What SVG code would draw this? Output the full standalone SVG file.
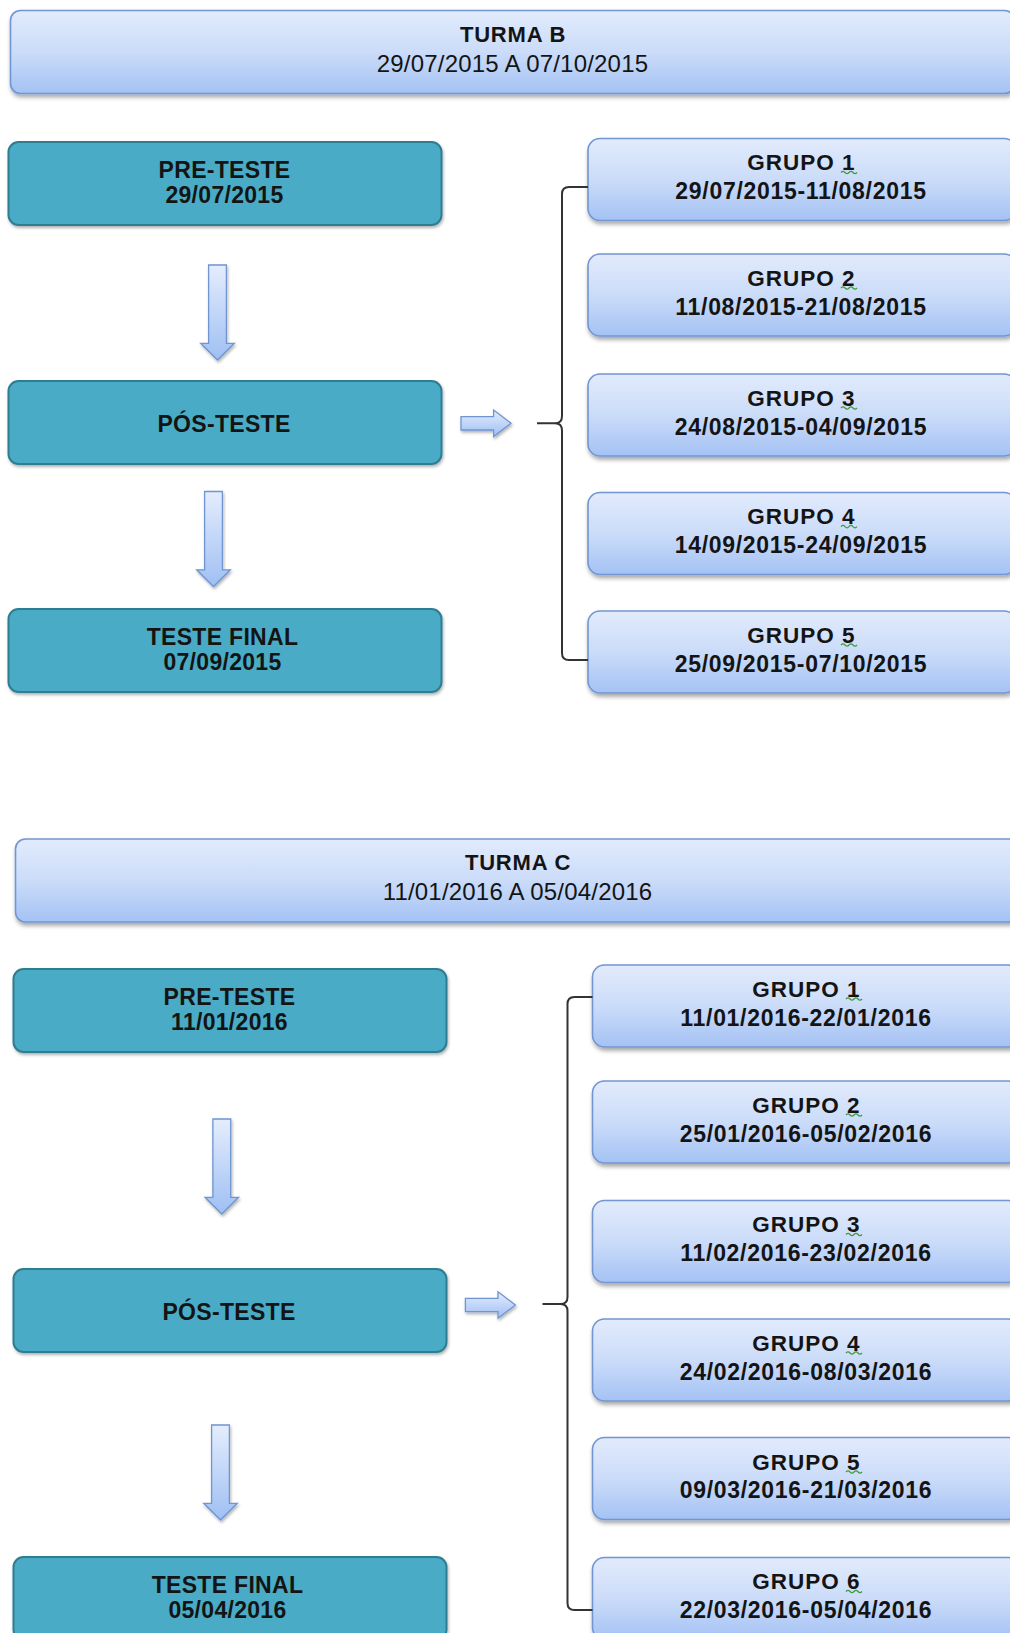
<svg xmlns="http://www.w3.org/2000/svg" width="1010" height="1633" viewBox="0 0 1010 1633">
  <defs>
    <linearGradient id="blueFill" x1="0" y1="0" x2="0" y2="1">
      <stop offset="0" stop-color="#e2ebfc"/>
      <stop offset="0.5" stop-color="#cbdcf9"/>
      <stop offset="1" stop-color="#a4c2f4"/>
    </linearGradient>
    <linearGradient id="arrowFill" x1="0" y1="0" x2="0" y2="1">
      <stop offset="0" stop-color="#e4edfd"/>
      <stop offset="1" stop-color="#9fbff3"/>
    </linearGradient>
    <filter id="shadow" x="-5%" y="-20%" width="110%" height="150%">
      <feDropShadow dx="1" dy="3" stdDeviation="2" flood-color="#000" flood-opacity="0.35"/>
    </filter>
    <filter id="softShadow" x="-20%" y="-20%" width="140%" height="140%">
      <feDropShadow dx="1" dy="2" stdDeviation="1.5" flood-color="#000" flood-opacity="0.3"/>
    </filter>
    <!-- block arrows, drawn at the origin -->
    <path id="arrowDown" d="M -8.9 0 H 8.9 V 78.3 H 16.8 L 0 95 L -16.8 78.3 H -8.9 Z"/>
    <path id="arrowRight" d="M 0 -6.7 H 32.6 V -13.3 L 50 0 L 32.6 13.3 V 6.7 H 0 Z"/>
    <path id="squiggle" d="M 0 0 q 2 -2.4 4 0 t 4 0 t 4 0 t 4 0"/>
  </defs>
  <style>
    .header { fill: url(#blueFill); stroke: #7196d2; stroke-width: 1.6; filter: url(#shadow); }
    .group { fill: url(#blueFill); stroke: #7196d2; stroke-width: 1.6; filter: url(#shadow); }
    .stage { fill: #4aabc5; stroke: #2f7d92; stroke-width: 2; filter: url(#softShadow); }
    .arrow { fill: url(#arrowFill); stroke: #6f95d0; stroke-width: 1.3; filter: url(#softShadow); }
    .brace { fill: none; stroke: #333; stroke-width: 2; }
    .spell { fill: none; stroke: #3f9a3f; stroke-width: 1.2; }
    text { font-family: "Liberation Sans", Arial, sans-serif; text-anchor: middle; fill: #141414; }
    .hTitle { font-size: 22px; font-weight: bold; letter-spacing: 0.8px; }
    .hDate { font-size: 24px; letter-spacing: 0.2px; }
    .sText { font-size: 23px; font-weight: bold; letter-spacing: 0.3px; }
    .gTitle { font-size: 22.5px; font-weight: bold; letter-spacing: 1px; }
    .gDate { font-size: 23px; font-weight: bold; letter-spacing: 0.7px; }
  </style>

  <!-- ===== TURMA B ===== -->
  <g id="turma-b">
    <rect class="header" x="10.5" y="10.5" width="1004" height="83" rx="10"/>
    <text class="hTitle" x="513" y="41.7">TURMA B</text>
    <text class="hDate" x="512.5" y="71.7">29/07/2015 A 07/10/2015</text>
  </g>

  <g id="b-pre-teste">
    <rect class="stage" x="8.5" y="142" width="433" height="83" rx="10"/>
    <text class="sText" x="224.5" y="178.3">PRE-TESTE</text>
    <text class="sText" x="224.5" y="203.3">29/07/2015</text>
  </g>
  <g id="b-pos-teste">
    <rect class="stage" x="8.5" y="381" width="433" height="83" rx="10"/>
    <text class="sText" x="224" y="432">PÓS-TESTE</text>
  </g>
  <g id="b-teste-final">
    <rect class="stage" x="8.5" y="609" width="433" height="83" rx="10"/>
    <text class="sText" x="222.5" y="645">TESTE FINAL</text>
    <text class="sText" x="222.5" y="670">07/09/2015</text>
  </g>

  <g id="b-grupo-1">
    <rect class="group" x="588" y="138.5" width="428" height="82" rx="12"/>
    <text class="gTitle" x="801.5" y="170.1">GRUPO 1</text>
    <text class="gDate" x="801" y="199.1">29/07/2015-11/08/2015</text>
    <use href="#squiggle" class="spell" x="841" y="172.5"/>
  </g>
  <g id="b-grupo-2">
    <rect class="group" x="588" y="254" width="428" height="82" rx="12"/>
    <text class="gTitle" x="801.5" y="285.5">GRUPO 2</text>
    <text class="gDate" x="801" y="314.5">11/08/2015-21/08/2015</text>
    <use href="#squiggle" class="spell" x="841" y="288"/>
  </g>
  <g id="b-grupo-3">
    <rect class="group" x="588" y="374" width="428" height="82" rx="12"/>
    <text class="gTitle" x="801.5" y="405.5">GRUPO 3</text>
    <text class="gDate" x="801" y="434.5">24/08/2015-04/09/2015</text>
    <use href="#squiggle" class="spell" x="841" y="408"/>
  </g>
  <g id="b-grupo-4">
    <rect class="group" x="588" y="492.5" width="428" height="82" rx="12"/>
    <text class="gTitle" x="801.5" y="524.1">GRUPO 4</text>
    <text class="gDate" x="801" y="553.1">14/09/2015-24/09/2015</text>
    <use href="#squiggle" class="spell" x="841" y="526.6"/>
  </g>
  <g id="b-grupo-5">
    <rect class="group" x="588" y="611" width="428" height="82" rx="12"/>
    <text class="gTitle" x="801.5" y="642.5">GRUPO 5</text>
    <text class="gDate" x="801" y="671.5">25/09/2015-07/10/2015</text>
    <use href="#squiggle" class="spell" x="841" y="645"/>
  </g>

  <!-- ===== TURMA C ===== -->
  <g id="turma-c">
    <rect class="header" x="15.5" y="839" width="1004" height="83" rx="10"/>
    <text class="hTitle" x="518" y="870.3">TURMA C</text>
    <text class="hDate" x="517.5" y="900.3">11/01/2016 A 05/04/2016</text>
  </g>

  <g id="c-pre-teste">
    <rect class="stage" x="13.5" y="969" width="433" height="83" rx="10"/>
    <text class="sText" x="229.5" y="1005">PRE-TESTE</text>
    <text class="sText" x="229.5" y="1030">11/01/2016</text>
  </g>
  <g id="c-pos-teste">
    <rect class="stage" x="13.5" y="1269" width="433" height="83" rx="10"/>
    <text class="sText" x="229" y="1320">PÓS-TESTE</text>
  </g>
  <g id="c-teste-final">
    <rect class="stage" x="13.5" y="1557" width="433" height="83" rx="10"/>
    <text class="sText" x="227.5" y="1592.6">TESTE FINAL</text>
    <text class="sText" x="227.5" y="1617.6">05/04/2016</text>
  </g>

  <g id="c-grupo-1">
    <rect class="group" x="592.5" y="965" width="428" height="82" rx="12"/>
    <text class="gTitle" x="806.5" y="996.5">GRUPO 1</text>
    <text class="gDate" x="806" y="1025.5">11/01/2016-22/01/2016</text>
    <use href="#squiggle" class="spell" x="846" y="999"/>
  </g>
  <g id="c-grupo-2">
    <rect class="group" x="592.5" y="1081" width="428" height="82" rx="12"/>
    <text class="gTitle" x="806.5" y="1112.5">GRUPO 2</text>
    <text class="gDate" x="806" y="1141.5">25/01/2016-05/02/2016</text>
    <use href="#squiggle" class="spell" x="846" y="1115"/>
  </g>
  <g id="c-grupo-3">
    <rect class="group" x="592.5" y="1200.5" width="428" height="82" rx="12"/>
    <text class="gTitle" x="806.5" y="1232">GRUPO 3</text>
    <text class="gDate" x="806" y="1261">11/02/2016-23/02/2016</text>
    <use href="#squiggle" class="spell" x="846" y="1234.5"/>
  </g>
  <g id="c-grupo-4">
    <rect class="group" x="592.5" y="1319" width="428" height="82" rx="12"/>
    <text class="gTitle" x="806.5" y="1350.5">GRUPO 4</text>
    <text class="gDate" x="806" y="1379.5">24/02/2016-08/03/2016</text>
    <use href="#squiggle" class="spell" x="846" y="1353"/>
  </g>
  <g id="c-grupo-5">
    <rect class="group" x="592.5" y="1437.5" width="428" height="82" rx="12"/>
    <text class="gTitle" x="806.5" y="1469.5">GRUPO 5</text>
    <text class="gDate" x="806" y="1498">09/03/2016-21/03/2016</text>
    <use href="#squiggle" class="spell" x="846" y="1472"/>
  </g>
  <g id="c-grupo-6">
    <rect class="group" x="592.5" y="1557.5" width="428" height="82" rx="12"/>
    <text class="gTitle" x="806.5" y="1589">GRUPO 6</text>
    <text class="gDate" x="806" y="1618">22/03/2016-05/04/2016</text>
    <use href="#squiggle" class="spell" x="846" y="1591.5"/>
  </g>

  <!-- ===== connectors ===== -->
  <g id="connectors">
    <!-- Turma B -->
    <use href="#arrowDown" class="arrow" x="217.5" y="265"/>
    <use href="#arrowDown" class="arrow" x="213.5" y="491.5"/>
    <use href="#arrowRight" class="arrow" x="461" y="423.3"/>
    <path class="brace" d="M 588 187 H 569 Q 562 187 562 194 V 416 Q 562 423.3 555 423.3 H 537 M 555 423.3 Q 562 423.3 562 430.6 V 653 Q 562 660 569 660 H 588"/>
    <!-- Turma C -->
    <use href="#arrowDown" class="arrow" x="221.8" y="1119"/>
    <use href="#arrowDown" class="arrow" x="220.5" y="1425"/>
    <use href="#arrowRight" class="arrow" x="465.4" y="1305"/>
    <path class="brace" d="M 592.5 997 H 574.5 Q 567.5 997 567.5 1004 V 1297 Q 567.5 1304 560.5 1304 H 542.5 M 560.5 1304 Q 567.5 1304 567.5 1311 V 1603 Q 567.5 1610 574.5 1610 H 592.5"/>
  </g>
</svg>
